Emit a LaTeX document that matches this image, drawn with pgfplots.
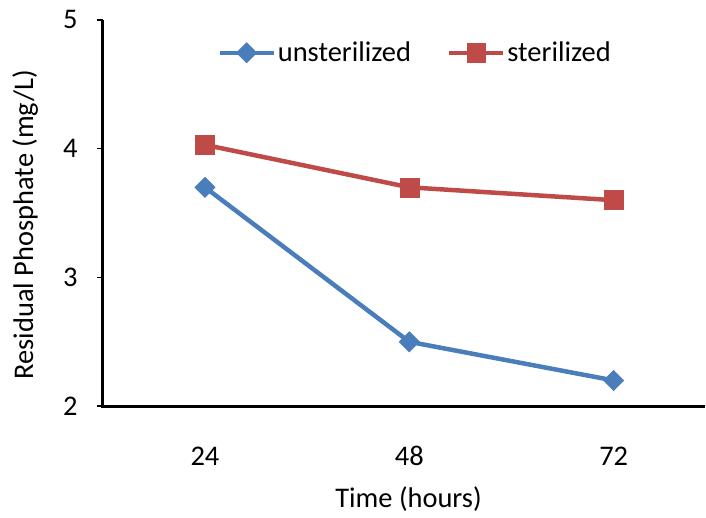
\documentclass[border=0pt]{standalone}
\usepackage{fontspec}
\setmainfont{Carlito}
\usepackage{pgfplots}
\pgfplotsset{compat=1.18}

\definecolor{serA}{HTML}{4A7EBB}
\definecolor{serB}{HTML}{BE4B48}

\begin{document}
\begin{tikzpicture}
\begin{axis}[
  scale only axis,
  width=603pt, height=387pt,
  xmin=-0.5, xmax=2.445,
  ymin=2, ymax=5,
  xtick={0,1,2},
  xticklabels={24,48,72},
  ytick={2,3,4,5},
  axis x line*=bottom,
  axis y line*=left,
  axis line style={line width=2.8pt, black},
  x axis line style={shorten <=-1.4pt},
  major x tick style={draw=none},
  major y tick style={line width=1.5pt, black},
  tick align=outside,
  major tick length=6pt,
  /pgf/number format/assume math mode=true,
  tick label style={font=\fontsize{28.5}{32}\selectfont},
  xticklabel style={anchor=center, inner sep=0pt, yshift=-44pt},
  yticklabel style={anchor=east, inner sep=0pt, xshift=-19pt},
  xlabel={Time (hours)},
  ylabel={Residual Phosphate (mg/L)},
  label style={font=\fontsize{28.5}{32}\selectfont},
  xlabel style={at={(axis description cs:0.508,0)}, anchor=center, yshift=-93pt},
  ylabel style={at={(axis description cs:-0.129,0.47)}, anchor=center},
  clip=false,
  legend columns=2,
  legend style={at={(axis description cs:0.519,0.915)}, anchor=center, draw=none,
    fill=none, font=\fontsize{28.5}{32}\selectfont, inner sep=0pt,
    /tikz/every even column/.append style={column sep=34pt}},
  legend cell align=left,
  legend image code/.code={%
    \draw[#1, mark repeat=2, mark phase=2] plot coordinates {(0pt,0pt) (27pt,0pt) (54pt,0pt)};},
]
\addplot[serA, line width=4.5pt, mark=square*,
  mark options={rotate=45, line width=0.5pt, fill=serA, draw=serA}, mark size=7.2pt]
  coordinates {(0,3.7) (1,2.5) (2,2.2)};
\addlegendentry{unsterilized}
\addplot[serB, line width=4.5pt, mark=square*,
  mark options={line width=0.5pt, fill=serB, draw=serB}, mark size=9.5pt]
  coordinates {(0,4.03) (1,3.7) (2,3.6)};
\addlegendentry{sterilized}
\end{axis}
\useasboundingbox (-103pt,-112pt) rectangle (603pt,407pt);
\end{tikzpicture}
\end{document}
